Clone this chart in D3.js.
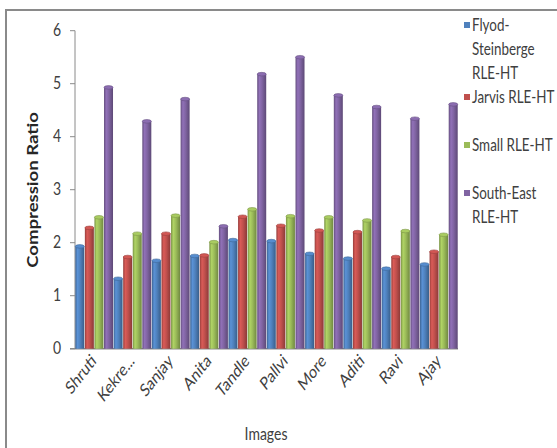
<!DOCTYPE html>
<html>
<head>
<meta charset="utf-8">
<script src="https://cdn.jsdelivr.net/npm/d3@7/dist/d3.min.js"></script>
<style>
  html, body { margin: 0; padding: 0; background: #fff; }
  svg { display: block; }
  text { font-family: Lato, "Open Sans", sans-serif; }
</style>
</head>
<body>
<svg id="chart" width="557" height="448"></svg>
<script>
// Compression ratio per image, one array per halftoning method
const categories = ["Shruti", "Kekre...", "Sanjay", "Anita", "Tandle", "Pallvi", "More", "Aditi", "Ravi", "Ajay"];
const floydSteinberg = [1.93, 1.32, 1.66, 1.75, 2.05, 2.03, 1.79, 1.70, 1.51, 1.59];
const jarvis        = [2.28, 1.73, 2.17, 1.76, 2.49, 2.32, 2.23, 2.20, 1.73, 1.83];
const small         = [2.48, 2.17, 2.51, 2.01, 2.63, 2.50, 2.48, 2.42, 2.22, 2.15];
const southEast     = [4.93, 4.29, 4.71, 2.31, 5.18, 5.50, 4.78, 4.56, 4.34, 4.61];
const seriesNames = [
  ["Flyod-", "Steinberge", "RLE-HT"],
  ["Jarvis RLE-HT"],
  ["Small RLE-HT"],
  ["South-East", "RLE-HT"]
];
const yTicks = [0, 1, 2, 3, 4, 5, 6];
const yTitle = "Compression Ratio";
const xTitle = "Images";

const seriesValues = [floydSteinberg, jarvis, small, southEast];
const colors = ["#4f81bd", "#c0504d", "#9bbb59", "#8064a2"];

const svg = d3.select("#chart");
const S = 1.28; // vertical stretch applied to all text

// outer frame
svg.append("path")
  .attr("d", "M6,448 L6,10 L557,10")
  .attr("fill", "none").attr("stroke", "#8a8a8a").attr("stroke-width", 2);

const x0 = d3.scaleBand().domain(d3.range(categories.length)).range([75, 458]).padding(0);
const x1 = d3.scaleBand().domain(d3.range(seriesValues.length)).range([0, x0.bandwidth()]).paddingInner(0.06).paddingOuter(0.03);
const y = d3.scaleLinear().domain([0, 6]).range([348.7, 30.7]);

// cylinder shading gradients
const defs = svg.append("defs");
colors.forEach((c, i) => {
  const base = d3.color(c);
  const g = defs.append("linearGradient").attr("id", "cyl" + i)
    .attr("x1", "0%").attr("x2", "100%").attr("y1", "0%").attr("y2", "0%");
  g.append("stop").attr("offset", "0%").attr("stop-color", base.darker(0.7));
  g.append("stop").attr("offset", "25%").attr("stop-color", base.brighter(0.35));
  g.append("stop").attr("offset", "55%").attr("stop-color", base);
  g.append("stop").attr("offset", "100%").attr("stop-color", base.darker(0.9));
});

// y axis
const yAxis = svg.append("g").attr("transform", "translate(75,0)");
yAxis.append("line").attr("x1", 0).attr("x2", 0).attr("y1", y(6)).attr("y2", y(0))
  .attr("stroke", "#8a8a8a").attr("stroke-width", 1);
yAxis.selectAll("line.tick").data(yTicks).join("line")
  .attr("class", "tick")
  .attr("x1", -5).attr("x2", 0)
  .attr("y1", d => y(d)).attr("y2", d => y(d))
  .attr("stroke", "#8a8a8a");
yAxis.selectAll("text").data(yTicks).join("text")
  .attr("transform", d => `translate(-14,${y(d) + 5.5}) scale(1,${S})`)
  .attr("text-anchor", "end")
  .attr("font-size", 14)
  .attr("fill", "#404040")
  .text(d => d);

// floor line
svg.append("line").attr("x1", 70).attr("x2", 458).attr("y1", y(0)).attr("y2", y(0))
  .attr("stroke", "#8a8a8a").attr("stroke-width", 1.5);

// bars
const groups = svg.append("g").selectAll("g").data(categories).join("g")
  .attr("transform", (d, i) => `translate(${x0(i)},0)`);
groups.each(function (cat, ci) {
  const g = d3.select(this);
  seriesValues.forEach((vals, si) => {
    const v = vals[ci];
    const bx = x1(si), bw = x1.bandwidth();
    const top = y(v);
    g.append("rect")
      .attr("x", bx).attr("y", top).attr("width", bw).attr("height", y(0) - top)
      .attr("fill", `url(#cyl${si})`);
    g.append("ellipse")
      .attr("cx", bx + bw / 2).attr("cy", top).attr("rx", bw / 2).attr("ry", 1.8)
      .attr("fill", d3.color(colors[si]).brighter(0.25))
      .attr("stroke", d3.color(colors[si]).darker(0.6)).attr("stroke-width", 0.6);
  });
});

// category labels
svg.append("g").selectAll("text").data(categories).join("text")
  .attr("transform", (d, i) => `translate(${x0(i) + x0.bandwidth() / 2 + 3},${362}) scale(1,${S}) rotate(-45)`)
  .attr("text-anchor", "end")
  .attr("font-size", 14)
  .attr("fill", "#404040")
  .text(d => d);

// axis titles
svg.append("text")
  .attr("transform", `translate(${266},${440}) scale(1,${S})`)
  .attr("text-anchor", "middle").attr("font-size", 14).attr("fill", "#404040")
  .text(xTitle);
svg.append("text")
  .attr("transform", `translate(${38},${190}) scale(1,${S}) rotate(-90)`)
  .attr("text-anchor", "middle").attr("font-size", 14.5).attr("font-weight", "bold").attr("fill", "#262626")
  .text(yTitle);

// legend
const slots = [0, 3, 5, 7];
const legend = svg.append("g");
seriesNames.forEach((lines, i) => {
  const y0 = 31 + slots[i] * 24;
  legend.append("rect").attr("x", 464).attr("y", y0 - 9).attr("width", 6).attr("height", 6)
    .attr("fill", colors[i]);
  lines.forEach((t, li) => {
    legend.append("text")
      .attr("transform", `translate(472,${y0 + li * 24}) scale(1,${S})`)
      .attr("font-size", 13.4).attr("fill", "#404040")
      .text(t);
  });
});
</script>
</body>
</html>
